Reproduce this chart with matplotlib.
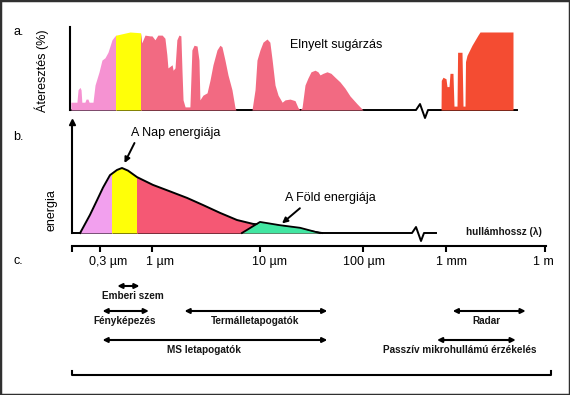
import numpy as np
import matplotlib

matplotlib.use("Agg")
import matplotlib.pyplot as plt
from matplotlib.patches import Rectangle
from matplotlib.ticker import NullLocator

plt.rcParams["font.family"] = ["Liberation Sans", "DejaVu Sans"]

# a. atmospheric transmission (%) from UV to far infrared
TRANS_UM = [0.157, 0.177, 0.181, 0.188, 0.192, 0.195, 0.207, 0.212, 0.220, 0.225,
            0.243, 0.253, 0.274, 0.290, 0.309, 0.331, 0.363, 0.389, 0.400, 0.55,
            0.70, 0.72, 0.776, 0.871, 0.912, 0.977, 1.04, 1.14, 1.21, 1.26,
            1.29, 1.35, 1.41, 1.44, 1.50, 1.56, 1.63, 1.70, 1.74, 1.78,
            1.86, 2.06, 2.15, 2.25, 2.40, 2.50, 2.55, 2.72, 2.97, 3.16,
            3.37, 3.67, 3.91, 4.08, 4.35, 4.64, 5.05, 5.39, 5.5, 7.74,
            8.26, 8.61, 9.18, 9.79, 10.7, 11.4, 12.0, 12.8, 13.7, 15.0,
            16.0, 17.9, 20.0, 21.4, 22.4, 23.4, 25.0, 26.7, 28.6, 31.3,
            33.4, 35.0, 37.4, 40.9, 44.7, 48.9, 54.7, 61.1, 68.4, 80.0, 91.5]
TRANS_PCT = [10, 10, 26, 29, 26, 10, 10, 14, 14, 10,
             10, 32, 49, 64, 67, 74, 90, 95, 96, 100,
             99, 86, 96, 95, 95, 90, 96, 96, 92, 71,
             54, 56, 58, 51, 54, 90, 96, 95, 51, 13,
             4, 4, 77, 83, 82, 64, 13, 19, 22, 38,
             58, 77, 83, 81, 64, 45, 26, 3, 0, 0,
             26, 64, 77, 87, 91, 87, 64, 32, 19, 10,
             13, 14, 12, 3, 0, 3, 32, 41, 49, 51,
             49, 45, 47, 49, 47, 42, 36, 28, 18, 8, 0]

# a. microwave window
MW_UM = [780, 785, 824, 895, 920, 973, 1000, 1230, 1320, 1630,
         1700, 2310, 2480, 2850, 2950, 3270, 4640, 7050, 8110, 81100, 81200]
MW_PCT = [0, 38, 42, 40, 30, 30, 47, 47, 5, 5,
          74, 74, 5, 5, 62, 70, 83, 96, 100, 100, 0]

# b. relative energy
SUN_UM = [0.204, 0.248, 0.284, 0.324, 0.380, 0.447, 0.501, 0.575, 0.708, 1.02,
          1.47, 2.11, 2.97, 4.26, 6.12, 8.61, 15.6, 24.5, 40]
SUN_E = [0.0, 0.28, 0.50, 0.70, 0.89, 0.97, 1.0, 0.96, 0.86, 0.74,
         0.64, 0.54, 0.43, 0.31, 0.20, 0.14, 0.10, 0.05, 0.0]
EARTH_UM = [6.8, 10, 15.6, 24.5, 38]
EARTH_E = [0.0, 0.17, 0.12, 0.08, 0.0]

VISIBLE_UM = (0.4, 0.7)
BREAK_UM = 460

# c. wavelength axis and sensors
TICK_UM = [0.3, 1, 10, 100, 1000, 1e6]
TICK_LABELS = ["0,3 µm", "1 µm", "10 µm", "100 µm", "1 mm", "1 m"]
TICK_DX = [8, 8, 10, 1, 6, -2]

SENSOR_NAMES = ["Emberi szem", "Fényképezés", "Termálletapogatók",
                "MS letapogatók", "Radar", "Passzív mikrohullámú érzékelés"]
SENSOR_LO_UM = [0.45, 0.32, 2.0, 0.32, 1600, 780]
SENSOR_HI_UM = [0.75, 0.93, 45, 45, 2.6e5, 1.3e5]
SENSOR_ROW = [0, 1, 1, 2, 1, 2]
SENSOR_DX = [4, -1, -1, -11, -3, -17]
ROW_Y = [0.872, 0.672, 0.44]

PINK_A, PINK_B = "#f592d2", "#f2a0ee"
RED_A, RED_B = "#f26a82", "#f55874"
YELLOW = "#ffff08"
MW_RED = "#f44c32"
GREEN = "#42e6a2"

# broken log-wavelength axis (scale units = pixels)
AX_LOG = [-1.377, -0.76, -0.52, 0, 1, 2, 3, 6, 6.76]
AX_POS = [0, 72, 100, 152, 260, 363, 446, 545, 570]
W, H = 570, 395


def fwd(um):
    arr = np.asarray(um, dtype=float)
    out = np.interp(np.log10(np.clip(arr, 1e-12, None)).ravel(), AX_LOG, AX_POS)
    return out.reshape(arr.shape)


def inv(pos):
    arr = np.asarray(pos, dtype=float)
    out = 10 ** np.interp(arr.ravel(), AX_POS, AX_LOG)
    return out.reshape(arr.shape)


def box(x0, y0, x1, y1):
    return [x0 / W, 1 - y1 / H, (x1 - x0) / W, (y1 - y0) / H]


def wave_axes(rect, s0, s1):
    ax = fig.add_axes(rect)
    ax.set_xscale("function", functions=(fwd, inv))
    ax.set_xlim(inv(s0), inv(s1))
    ax.xaxis.set_minor_locator(NullLocator())
    ax.patch.set_visible(False)
    return ax


def band_fill(ax, xs, ys, lo, hi, color):
    poly = ax.fill_between(xs, 0, ys, color=color, lw=0, zorder=2)
    clip = Rectangle((lo, -1e3), hi - lo, 2e3, transform=ax.transData)
    poly.set_clip_path(clip)


def baseline(ax, px_per_unit, lo, hi):
    sb = fwd(BREAK_UM)
    dx = np.array([-6, -2, 3, 6])
    dy = np.array([0, 6, -8, 0]) / px_per_unit
    xs = [lo, *inv(sb + dx), hi]
    ys = [0, *dy, 0]
    ax.plot(xs, ys, color="black", lw=1.4, zorder=1, clip_on=False)


fig = plt.figure(figsize=(5.7, 3.95), dpi=100)

# ---- a. transmission
ax_a = wave_axes(box(70, 27, 517, 120), 66, 513)
ax_a.set_ylim(-12.8, 106.4)
baseline(ax_a, 0.78, inv(66), inv(513))
band_fill(ax_a, TRANS_UM, TRANS_PCT, 1e-3, VISIBLE_UM[0], PINK_A)
band_fill(ax_a, TRANS_UM, TRANS_PCT, VISIBLE_UM[0], VISIBLE_UM[1], YELLOW)
band_fill(ax_a, TRANS_UM, TRANS_PCT, VISIBLE_UM[1], 1e8, RED_A)
ax_a.fill_between(MW_UM, 0, MW_PCT, color=MW_RED, lw=0, zorder=2)
for side in ("right", "top", "bottom"):
    ax_a.spines[side].set_visible(False)
ax_a.spines["left"].set_linewidth(1.5)
ax_a.spines["left"].set_bounds(0, 106.4)
ax_a.set_xticks([])
ax_a.set_yticks([])

# ---- b. energy
e_top = 111 / 65
ax_b = wave_axes(box(72, 122, 436, 245), 72, 436)
ax_b.set_ylim(-12 / 65, e_top)
baseline(ax_b, 65, inv(72), inv(436))
band_fill(ax_b, SUN_UM, SUN_E, 1e-3, VISIBLE_UM[0], PINK_B)
band_fill(ax_b, SUN_UM, SUN_E, VISIBLE_UM[0], VISIBLE_UM[1], YELLOW)
band_fill(ax_b, SUN_UM, SUN_E, VISIBLE_UM[1], 1e8, RED_B)
ax_b.plot(SUN_UM, SUN_E, color="black", lw=1.4, zorder=3)
ax_b.fill_between(EARTH_UM, 0, EARTH_E, color=GREEN, lw=0, zorder=4)
ax_b.plot(EARTH_UM, EARTH_E, color="black", lw=1.3, zorder=5)
for side in ("right", "top", "bottom"):
    ax_b.spines[side].set_visible(False)
ax_b.spines["left"].set_linewidth(1.5)
ax_b.spines["left"].set_bounds(0, e_top)
ax_b.plot(0, 1, marker="^", ms=5, color="black", transform=ax_b.transAxes, clip_on=False)
ax_b.set_xticks([])
ax_b.set_yticks([])

peak = int(np.argmax(SUN_E))
arrow = dict(arrowstyle="-|>", color="black", lw=1.4, mutation_scale=8, shrinkA=0)
ax_b.annotate("", xy=(SUN_UM[peak], SUN_E[peak]), xytext=(9, 18),
              textcoords="offset points", arrowprops=dict(arrow, shrinkB=4))
ax_b.annotate("A Nap energiája", xy=(SUN_UM[peak], SUN_E[peak]), xytext=(6.5, 25.2),
              textcoords="offset points", ha="left", va="center", fontsize=9)
ax_b.annotate("", xy=(EARTH_UM[2], EARTH_E[2]), xytext=(14.4, 12.2),
              textcoords="offset points", arrowprops=dict(arrow, shrinkB=2))
ax_b.annotate("A Föld energiája", xy=(EARTH_UM[2], EARTH_E[2]), xytext=(3.6, 19.4),
              textcoords="offset points", ha="left", va="center", fontsize=9)

# ---- c. wavelength axis
ax_c = wave_axes(box(72, 240, 546, 246), 72, 546)
for side in ("left", "right", "top"):
    ax_c.spines[side].set_visible(False)
ax_c.spines["bottom"].set_linewidth(1.5)
ax_c.set_yticks([])
ax_c.set_xticks([inv(72)] + TICK_UM, [""] * (len(TICK_UM) + 1))
ax_c.tick_params(axis="x", direction="out", length=4.5, width=1.5)
for um, label, dx in zip(TICK_UM, TICK_LABELS, TICK_DX):
    ax_c.annotate(label, xy=(um, 0), xycoords=("data", "axes fraction"),
                  xytext=(dx * 0.72, -11.5), textcoords="offset points",
                  ha="center", va="center", fontsize=9)

# ---- sensors
ax_s = wave_axes(box(0, 270, 570, 395), 0, 570)
ax_s.set_ylim(0, 1)
ax_s.axis("off")
for name, lo, hi, row, dx in zip(SENSOR_NAMES, SENSOR_LO_UM, SENSOR_HI_UM,
                                 SENSOR_ROW, SENSOR_DX):
    y = ROW_Y[row]
    ax_s.annotate("", xy=(hi, y), xytext=(lo, y),
                  arrowprops=dict(arrowstyle="<|-|>", color="black", lw=1.5,
                                  mutation_scale=7, shrinkA=0, shrinkB=0))
    mid = inv((fwd(lo) + fwd(hi)) / 2)
    ax_s.annotate(name, xy=(mid, y - 0.083), xytext=(dx * 0.72, 0),
                  textcoords="offset points", ha="center", va="center",
                  fontsize=7.2, fontweight="bold", color="#151515")
left, right = inv(72), inv(551)
ax_s.plot([left, left, right, right], [0.195, 0.16, 0.16, 0.195], color="black", lw=1.5)

# ---- texts
fig.text(13 / W, 1 - 32 / H, "a.", fontsize=9, va="center")
fig.text(13 / W, 1 - 137 / H, "b.", fontsize=9, va="center")
fig.text(13 / W, 1 - 261 / H, "c.", fontsize=9, va="center")
fig.text(42 / W, 1 - 71 / H, "Áteresztés (%)", rotation=90, fontsize=9,
         ha="center", va="center")
fig.text(52 / W, 1 - 210 / H, "energia", rotation=90, fontsize=9,
         ha="center", va="center")
fig.text(290 / W, 1 - 45 / H, "Elnyelt sugárzás", fontsize=9, va="center")
fig.text(542 / W, 1 - 232 / H, "hullámhossz (λ)", fontsize=7.2, fontweight="bold",
         color="#151515", ha="right", va="center")

fig.patches.append(Rectangle((0, 0), 1, 1, transform=fig.transFigure, fill=False,
                             lw=2.5, ec="#303030"))

fig.savefig("out.png", dpi=100)
